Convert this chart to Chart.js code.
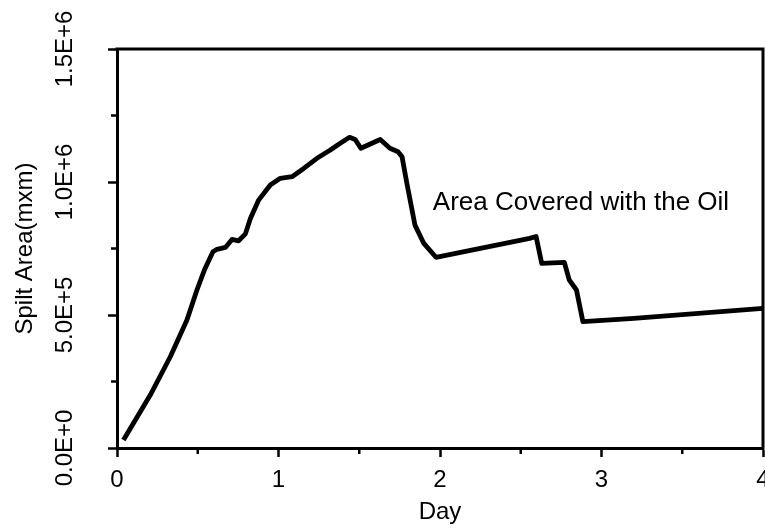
<!DOCTYPE html>
<html>
<head>
<meta charset="utf-8">
<script src="https://cdn.jsdelivr.net/npm/chart.js@4/dist/chart.umd.min.js"></script>
<style>
  html, body { margin: 0; padding: 0; background: #ffffff; }
  #wrap { width: 765px; height: 532px; }
</style>
</head>
<body>
<div id="wrap"><canvas id="c" width="765" height="532"></canvas></div>
<script>
// ---- data ----
const days = [0.04, 0.206, 0.33, 0.433, 0.495, 0.541, 0.594, 0.619, 0.671, 0.712, 0.753, 0.795, 0.826,
  0.877, 0.949, 1.011, 1.084, 1.156, 1.238, 1.321, 1.38, 1.44, 1.475, 1.51, 1.63, 1.69, 1.74, 1.765,
  1.795, 1.845, 1.90, 1.975, 2.555, 2.595, 2.63, 2.77, 2.80, 2.845, 2.885, 3.2, 4.0];
const spiltArea = [30000, 199000, 343000, 481000, 594000, 669000, 738000, 747000, 754000, 784000,
  779000, 805000, 863000, 932000, 989000, 1014000, 1020000, 1051000, 1089000, 1120000, 1145000,
  1168000, 1160000, 1127000, 1160000, 1127000, 1114000, 1095000, 995000, 838000, 769000, 717000,
  788000, 795000, 694000, 698000, 632000, 594000, 475000, 487000, 525000];
const xMajorTicks = [0, 1, 2, 3, 4];
const xMinorTicks = [0.5, 1.5, 2.5, 3.5];
const yMajorTicks = [0, 500000, 1000000, 1500000];
const yMinorTicks = [250000, 750000, 1250000];
const seriesLabel = 'Area Covered with the Oil';
const xTitle = 'Day';
const yTitle = 'Spilt Area(mxm)';
const labelAt = { day: 2.873, value: 920000 };

const FONT = "'Liberation Sans', Arial, Helvetica, sans-serif";
Chart.defaults.font.family = FONT;
Chart.defaults.color = '#000';

const points = days.map((d, i) => ({ x: d, y: spiltArea[i] }));

const framePlugin = {
  id: 'frame',
  afterDraw(chart) {
    const { ctx, chartArea: a, scales: { x, y } } = chart;
    ctx.save();
    ctx.strokeStyle = '#000';
    ctx.lineWidth = 3;
    ctx.beginPath();
    ctx.moveTo(a.left - 1.5, a.top);
    ctx.lineTo(a.right, a.top);
    ctx.lineTo(a.right, a.bottom + 1.5);
    ctx.stroke();
    ctx.lineWidth = 2.5;
    ctx.beginPath();
    xMinorTicks.forEach(v => {
      const px = x.getPixelForValue(v);
      ctx.moveTo(px, a.bottom);
      ctx.lineTo(px, a.bottom + 6);
    });
    yMinorTicks.forEach(v => {
      const py = y.getPixelForValue(v);
      ctx.moveTo(a.left, py);
      ctx.lineTo(a.left - 6, py);
    });
    ctx.stroke();
    ctx.fillStyle = '#000';
    ctx.font = '26px ' + FONT;
    ctx.textAlign = 'center';
    ctx.textBaseline = 'middle';
    ctx.fillText(seriesLabel, x.getPixelForValue(labelAt.day), y.getPixelForValue(labelAt.value));
    ctx.restore();
  }
};

new Chart(document.getElementById('c'), {
  type: 'line',
  data: {
    datasets: [{
      label: seriesLabel,
      data: points,
      borderColor: '#000',
      borderWidth: 4.8,
      pointRadius: 0,
      tension: 0,
      borderJoinStyle: 'round',
      fill: false
    }]
  },
  options: {
    responsive: false,
    animation: false,
    layout: { padding: { top: 49, right: 2, left: 0, bottom: 0 } },
    plugins: { legend: { display: false }, tooltip: { enabled: false } },
    scales: {
      x: {
        type: 'linear',
        min: 0, max: 4,
        afterBuildTicks(scale) { scale.ticks = xMajorTicks.map(v => ({ value: v })); },
        afterFit(scale) { scale.height = 84; scale.paddingLeft = 0; scale.paddingRight = 0; },
        ticks: { font: { size: 24 }, color: '#000', padding: 9, maxRotation: 0, autoSkip: false,
                 callback: v => String(v) },
        grid: { drawOnChartArea: false, drawTicks: true, tickLength: 9, tickColor: '#000', tickWidth: 2.5 },
        border: { display: true, color: '#000', width: 3 },
        title: { display: true, text: xTitle, font: { size: 24 }, color: '#000', padding: { top: 0, bottom: 5 } }
      },
      y: {
        type: 'linear',
        min: 0, max: 1500000,
        afterBuildTicks(scale) { scale.ticks = yMajorTicks.map(v => ({ value: v })); },
        afterFit(scale) { scale.width = 117; scale.paddingTop = 0; scale.paddingBottom = 0; },
        ticks: { font: { size: 24 }, color: '#000', padding: 4.5, minRotation: 90, maxRotation: 90,
                 crossAlign: 'center', autoSkip: false,
                 callback: v => Number(v).toExponential(1).toUpperCase() },
        grid: { drawOnChartArea: false, drawTicks: true, tickLength: 9, tickColor: '#000', tickWidth: 2.5 },
        border: { display: true, color: '#000', width: 3 },
        title: { display: true, text: yTitle, font: { size: 24 }, color: '#000', padding: { top: 11, bottom: 0 } }
      }
    }
  },
  plugins: [framePlugin]
});
</script>
</body>
</html>
